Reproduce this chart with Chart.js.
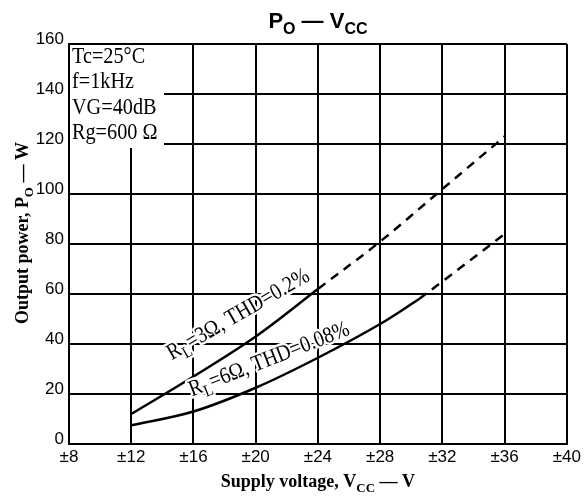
<!DOCTYPE html>
<html>
<head>
<meta charset="utf-8">
<script src="https://cdn.jsdelivr.net/npm/chart.js@4"></script>
<style>
  html, body { margin: 0; padding: 0; background: #fff; }
</style>
</head>
<body>
<canvas id="po" width="584" height="500"></canvas>
<script>
// values
const vcc3 = [12, 16, 20, 24];
const po3 = [12, 27, 43, 62];
const vcc3Dash = [24, 28, 32, 36];
const po3Dash = [62, 81, 102, 123];

const vcc6 = [12, 16, 20, 24, 28, 30.5];
const po6 = [7.5, 13, 22.5, 34.5, 48, 58];
const vcc6Dash = [30.5, 32, 36];
const po6Dash = [58, 65, 84];

const conditions = ["Tc=25°C", "f=1kHz", "VG=40dB", "Rg=600 Ω"];

const SERIF = "'Liberation Serif', 'Times New Roman', serif";
const SANS = "'Liberation Sans', Arial, sans-serif";

function pts(xs, ys) {
  return xs.map((x, i) => ({ x: x, y: ys[i] }));
}

// draws text with subscripts, parts = [[text, isSub], ...]
function drawRich(ctx, parts, x, y, size, family, weight, align, halo) {
  const subSize = Math.round(size * 0.72);
  let w = 0;
  parts.forEach(p => {
    ctx.font = weight + " " + (p[1] ? subSize : size) + "px " + family;
    w += ctx.measureText(p[0]).width;
  });
  let cx = align === "center" ? x - w / 2 : x;
  parts.forEach(p => {
    ctx.font = weight + " " + (p[1] ? subSize : size) + "px " + family;
    const dy = p[1] ? size * 0.25 : 0;
    if (halo) ctx.strokeText(p[0], cx, y + dy);
    ctx.fillText(p[0], cx, y + dy);
    cx += ctx.measureText(p[0]).width;
  });
}

const textPlugin = {
  id: "texts",
  beforeDatasetsDraw(chart) {
    const ctx = chart.ctx;
    const a = chart.chartArea;
    ctx.save();
    // white patch behind the conditions box
    ctx.fillStyle = "#fff";
    ctx.fillRect(a.left + 1, a.top + 1, 94, 103);
    ctx.fillStyle = "#000";
    ctx.textBaseline = "alphabetic";
    ctx.font = "23px " + SERIF;
    const base = [63, 88, 114, 139];
    conditions.forEach((t, i) => {
      ctx.save();
      ctx.translate(a.left + 3, base[i]);
      ctx.scale(0.88, 1);
      ctx.fillText(t, 0, 0);
      ctx.restore();
    });
    ctx.restore();
  },
  afterDatasetsDraw(chart) {
    const ctx = chart.ctx;
    const xs = chart.scales.x, ys = chart.scales.y;
    const labels = [
      { parts: [["R"], ["L", 1], ["=3Ω, THD=0.2%"]], v: 14.6, p: 33.5, rot: -30 },
      { parts: [["R"], ["L", 1], ["=6Ω, THD=0.08%"]], v: 15.9, p: 19, rot: -21.4 }
    ];
    labels.forEach(l => {
      ctx.save();
      ctx.translate(xs.getPixelForValue(l.v), ys.getPixelForValue(l.p));
      ctx.rotate(l.rot * Math.PI / 180);
      ctx.scale(0.86, 1);
      ctx.fillStyle = "#000";
      ctx.strokeStyle = "#fff";
      ctx.lineWidth = 5;
      ctx.lineJoin = "round";
      drawRich(ctx, l.parts, 0, 0, 23, SERIF, "normal", "left", true);
      ctx.restore();
    });
  },
  afterDraw(chart) {
    const ctx = chart.ctx;
    const a = chart.chartArea;
    const mid = (a.left + a.right) / 2;
    ctx.save();
    ctx.fillStyle = "#000";
    ctx.textBaseline = "alphabetic";
    drawRich(ctx, [["P"], ["O", 1], [" — "], ["V"], ["CC", 1]], mid, 28, 22, SANS, "bold", "center");
    drawRich(ctx, [["Supply voltage, V"], ["CC", 1], [" — V"]], mid, 487, 18, SERIF, "bold", "center");
    ctx.translate(28, 233);
    ctx.rotate(-Math.PI / 2);
    drawRich(ctx, [["Output power, P"], ["O", 1], [" — W"]], 0, 0, 18, SERIF, "bold", "center");
    ctx.restore();
  }
};

const lineStyle = {
  borderColor: "#000",
  borderWidth: 2.5,
  pointRadius: 0,
  fill: false,
  tension: 0.35
};

new Chart(document.getElementById("po"), {
  type: "line",
  data: {
    datasets: [
      Object.assign({ data: pts(vcc3, po3) }, lineStyle),
      Object.assign({ data: pts(vcc3Dash, po3Dash), borderDash: [9, 7] }, lineStyle),
      Object.assign({ data: pts(vcc6, po6) }, lineStyle),
      Object.assign({ data: pts(vcc6Dash, po6Dash), borderDash: [9, 7] }, lineStyle)
    ]
  },
  options: {
    responsive: false,
    animation: false,
    events: [],
    layout: { padding: { top: 44, right: 17, left: 0, bottom: 0 } },
    plugins: {
      legend: { display: false },
      tooltip: { enabled: false }
    },
    scales: {
      x: {
        type: "linear",
        min: 8,
        max: 40,
        afterFit: s => { s.height = 56; },
        ticks: {
          stepSize: 4,
          color: "#000",
          padding: 3,
          font: { family: SANS, size: 17 },
          callback: v => "±" + v
        },
        grid: { color: "#000", lineWidth: 2, drawTicks: false },
        border: { color: "#000", width: 2 }
      },
      y: {
        min: 0,
        max: 160,
        afterFit: s => { s.width = 69; },
        ticks: {
          stepSize: 20,
          color: "#000",
          padding: 5,
          labelOffset: -5,
          font: { family: SANS, size: 17 }
        },
        grid: { color: "#000", lineWidth: 2, drawTicks: false },
        border: { color: "#000", width: 2 }
      }
    }
  },
  plugins: [textPlugin]
});
</script>
</body>
</html>
